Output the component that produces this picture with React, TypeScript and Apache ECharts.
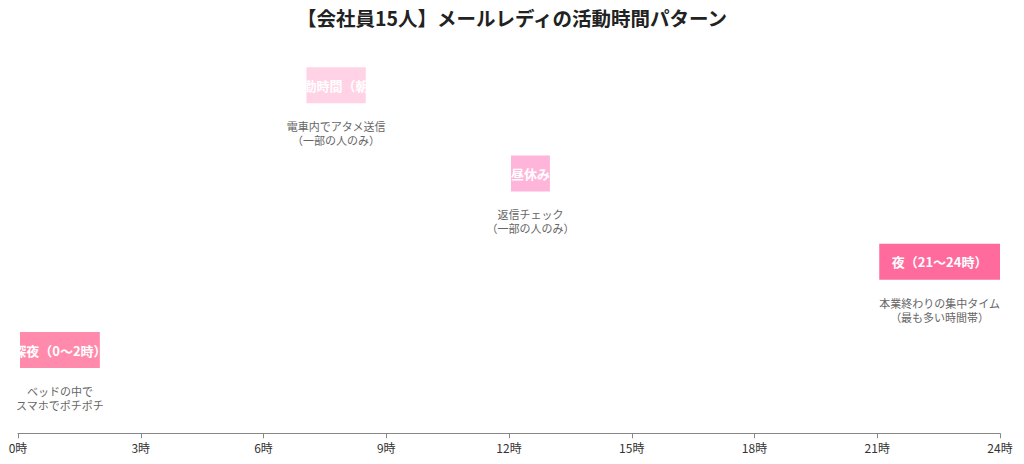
import { useEffect, useRef } from 'react'
import * as echarts from 'echarts'

const titleText = '【会社員15人】メールレディの活動時間パターン'
const slotNames = ['深夜（0〜2時）', '通勤時間（朝）', '昼休み', '夜（21〜24時）']
const slotStart = [0, 7, 12, 21]
const slotEnd = [2, 8.5, 13, 24]
const slotLevel = [1, 4, 3, 2]
const slotNotes = [
  'ベッドの中で\nスマホでポチポチ',
  '電車内でアタメ送信\n（一部の人のみ）',
  '返信チェック\n（一部の人のみ）',
  '本業終わりの集中タイム\n（最も多い時間帯）',
]
const slotColors = ['#ff8aab', '#ffd3e5', '#ffb5da', '#ff6b9d']

const FONT = '"Noto Sans CJK JP", "Noto Sans", sans-serif'

export default function App() {
  const ref = useRef<HTMLDivElement>(null)

  useEffect(() => {
    if (!ref.current) return
    const chart = echarts.init(ref.current, undefined, { renderer: 'svg' })

    const data = slotNames.map((_, i) => [slotStart[i], slotEnd[i], slotLevel[i]])

    chart.setOption({
      animation: false,
      backgroundColor: '#fff',
      textStyle: { fontFamily: FONT },
      title: {
        text: titleText,
        left: 'center',
        top: 3,
        textStyle: { fontFamily: FONT, fontSize: 19.5, fontWeight: 'bold', color: '#222' },
      },
      grid: { left: 18, right: 24, top: 41, bottom: 25.7 },
      xAxis: {
        type: 'value',
        min: 0,
        max: 24,
        interval: 3,
        offset: -5,
        splitLine: { show: false },
        axisLine: { show: true, lineStyle: { color: '#888' } },
        axisTick: { show: true, length: 5, lineStyle: { color: '#888' } },
        axisLabel: { color: '#333', fontSize: 12, fontFamily: FONT, formatter: '{value}時' },
      },
      yAxis: {
        type: 'value',
        min: 0,
        max: 4.5,
        show: false,
        splitLine: { show: false },
      },
      series: [
        {
          type: 'custom',
          data,
          clip: false,
          renderItem: (params: any, api: any) => {
            const i = params.dataIndex
            const a = api.coord([api.value(0), api.value(2)])
            const b = api.coord([api.value(1), api.value(2)])
            const h = 36
            const x0 = a[0] + 2
            const w = b[0] - x0
            const cx = (x0 + b[0]) / 2
            return {
              type: 'group',
              children: [
                {
                  type: 'rect',
                  shape: { x: x0, y: a[1] - h / 2, width: w, height: h },
                  style: { fill: slotColors[i] },
                },
                {
                  type: 'text',
                  x: cx,
                  y: a[1],
                  clipPath: { type: 'rect', shape: { x: -w / 2, y: -h / 2, width: w, height: h } },
                  style: {
                    text: slotNames[i],
                    fill: '#fff',
                    font: `bold 13px ${FONT}`,
                    align: 'center',
                    verticalAlign: 'middle',
                  },
                },
                {
                  type: 'text',
                  x: cx,
                  y: a[1] + 34,
                  style: {
                    text: slotNotes[i],
                    fill: '#666',
                    font: `11px ${FONT}`,
                    lineHeight: 14,
                    align: 'center',
                    verticalAlign: 'top',
                  },
                },
              ],
            }
          },
        },
      ],
    })

    return () => chart.dispose()
  }, [])

  return <div ref={ref} style={{ position: 'fixed', left: 0, top: 0, width: 1024, height: 464 }} />
}
